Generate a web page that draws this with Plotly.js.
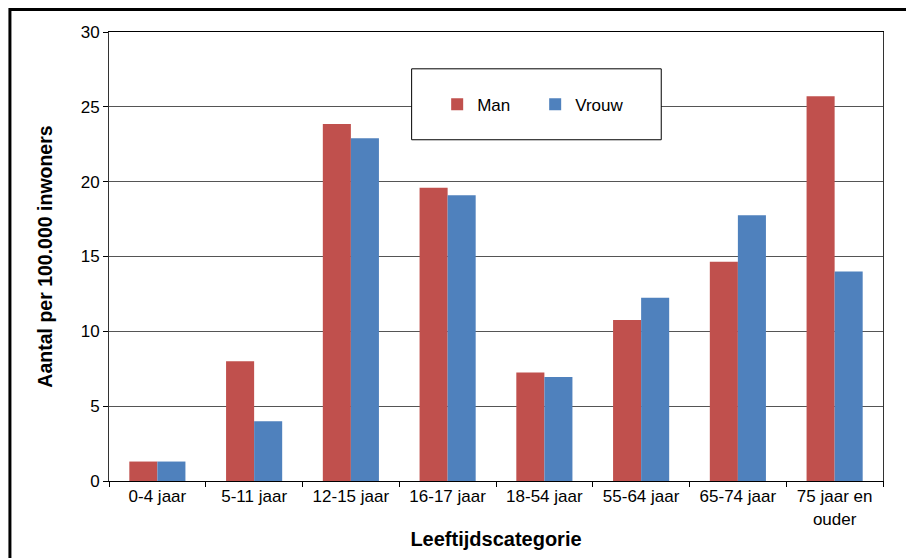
<!DOCTYPE html>
<html>
<head>
<meta charset="utf-8">
<script src="https://cdn.plot.ly/plotly-3.0.1.min.js"></script>
<style>html,body{margin:0;padding:0;background:#fff;}#chart{width:906px;height:558px;}</style>
</head>
<body>
<div id="chart"></div>
<script>
const categories = ["0-4 jaar", "5-11 jaar", "12-15 jaar", "16-17 jaar", "18-54 jaar", "55-64 jaar", "65-74 jaar", "75 jaar en<br>ouder"];
const manValues = [1.3, 8.0, 23.85, 19.6, 7.25, 10.75, 14.65, 25.7];
const vrouwValues = [1.3, 4.0, 22.9, 19.1, 6.95, 12.25, 17.75, 14.0];
const yTicks = [0, 5, 10, 15, 20, 25, 30];

const font = "'Liberation Sans', Arial, sans-serif";

const traces = [
  {type: "bar", name: "Man", x: categories, y: manValues, marker: {color: "#C0504D"}},
  {type: "bar", name: "Vrouw", x: categories, y: vrouwValues, marker: {color: "#4F81BD"}}
];

const layout = {
  width: 906, height: 558,
  margin: {l: 109, r: 23, t: 32, b: 77},
  paper_bgcolor: "#fff", plot_bgcolor: "#fff",
  font: {family: font, size: 17, color: "#000"},
  barmode: "group", bargap: 0.42, bargroupgap: 0,
  showlegend: true,
  legend: {
    orientation: "h", x: 0.424, xanchor: "left", y: 0.838, yanchor: "middle",
    bgcolor: "rgba(0,0,0,0)", borderwidth: 0, font: {size: 17},
    entrywidth: 53, traceorder: "normal"
  },
  xaxis: {
    type: "category", tickson: "boundaries", ticks: "outside", ticklen: 5, tickcolor: "#000",
    showline: true, linecolor: "#000", linewidth: 1, mirror: true,
    showgrid: false, tickfont: {size: 17},
    title: {text: "<b>Leeftijdscategorie</b>", font: {size: 20}, standoff: 4},
    automargin: false
  },
  yaxis: {
    range: [0, 30], tickvals: yTicks, ticks: "outside", ticklen: 5, tickcolor: "#000",
    showline: true, linecolor: "#333", linewidth: 1, mirror: true,
    showgrid: true, gridcolor: "#555", gridwidth: 1, zeroline: false,
    tickfont: {size: 17},
    title: {text: "<b>Aantal per 100.000 inwoners</b>", font: {size: 19.5}, standoff: 22},
    automargin: false
  },
  shapes: [
    {type: "rect", xref: "paper", yref: "paper", x0: 0.391, x1: 0.7135, y0: 0.76, y1: 0.918,
     line: {color: "#000", width: 1}, fillcolor: "#fff", layer: "above"},
    {type: "rect", xref: "paper", yref: "paper", x0: -0.128, x1: 1.04, y0: 1.05, y1: -0.19,
     line: {color: "#000", width: 3}, fillcolor: "rgba(0,0,0,0)", layer: "above"}
  ]
};

Plotly.newPlot("chart", traces, layout, {displayModeBar: false, staticPlot: true});
</script>
</body>
</html>
